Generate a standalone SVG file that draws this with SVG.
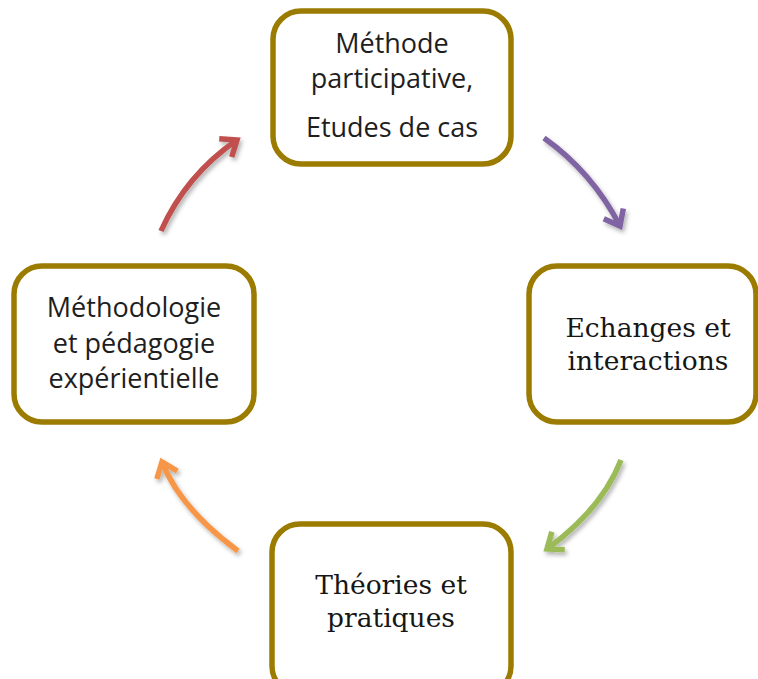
<svg xmlns="http://www.w3.org/2000/svg" width="758" height="679" viewBox="0 0 758 679">
<style>
.box{fill:#fff;stroke:#9B7B00;stroke-width:5.5}
.sans{font-family:"Open Sans","Noto Sans",sans-serif;font-size:27px;fill:#1e1e1e;text-anchor:middle}
.serif{font-family:"DejaVu Serif","Liberation Serif",serif;font-size:26.5px;fill:#161616;text-anchor:middle}
.arr{fill:none;stroke-width:5.5;stroke-linecap:butt}
</style>
<defs>
<filter id="sh" x="-30%" y="-30%" width="160%" height="160%">
<feDropShadow dx="2" dy="3" stdDeviation="2" flood-color="#000" flood-opacity="0.3"/>
</filter>
<marker id="mP" markerUnits="userSpaceOnUse" markerWidth="40" markerHeight="40" refX="20" refY="20" orient="auto" viewBox="0 0 40 40" overflow="visible">
<path d="M6,9 L20,20 L6,31" fill="none" stroke="#8064A2" stroke-width="5.5"/>
</marker>
<marker id="mR" markerUnits="userSpaceOnUse" markerWidth="40" markerHeight="40" refX="20" refY="20" orient="auto" viewBox="0 0 40 40" overflow="visible">
<path d="M6,9 L20,20 L6,31" fill="none" stroke="#C0504D" stroke-width="5.5"/>
</marker>
<marker id="mG" markerUnits="userSpaceOnUse" markerWidth="40" markerHeight="40" refX="20" refY="20" orient="auto" viewBox="0 0 40 40" overflow="visible">
<path d="M6,9 L20,20 L6,31" fill="none" stroke="#9BBB59" stroke-width="5.5"/>
</marker>
<marker id="mO" markerUnits="userSpaceOnUse" markerWidth="40" markerHeight="40" refX="20" refY="20" orient="auto" viewBox="0 0 40 40" overflow="visible">
<path d="M6,9 L20,20 L6,31" fill="none" stroke="#F79646" stroke-width="5.5"/>
</marker>
</defs>
<rect width="758" height="679" fill="#fff"/>
<g id="connectors" filter="url(#sh)">
<path class="arr" d="M544,138 Q592,172 620,226" stroke="#8064A2" marker-end="url(#mP)"/>
<path class="arr" d="M621,460 Q602,509 547,549" stroke="#9BBB59" marker-end="url(#mG)"/>
<path class="arr" d="M238,551 Q180,508 162,462" stroke="#F79646" marker-end="url(#mO)"/>
<path class="arr" d="M161,231 Q186,175 237,140" stroke="#C0504D" marker-end="url(#mR)"/>
</g>
<g id="node-top">
<rect class="box" x="273" y="11" width="238" height="153" rx="28"/>
<text class="sans" x="392" y="53">Méthode</text>
<text class="sans" x="392" y="88">participative,</text>
<text class="sans" x="392" y="137">Etudes de cas</text>
</g>
<g id="node-right">
<rect class="box" x="529" y="266" width="227" height="156" rx="28"/>
<text class="serif" x="648" y="337">Echanges et</text>
<text class="serif" x="648" y="370">interactions</text>
</g>
<g id="node-bottom">
<rect class="box" x="272" y="524" width="239" height="170" rx="28"/>
<text class="serif" x="391" y="594">Théories et</text>
<text class="serif" x="391" y="627">pratiques</text>
</g>
<g id="node-left">
<rect class="box" x="14" y="266" width="240" height="156" rx="28"/>
<text class="sans" x="134" y="317">Méthodologie</text>
<text class="sans" x="134" y="353">et pédagogie</text>
<text class="sans" x="134" y="388">expérientielle</text>
</g>
</svg>
